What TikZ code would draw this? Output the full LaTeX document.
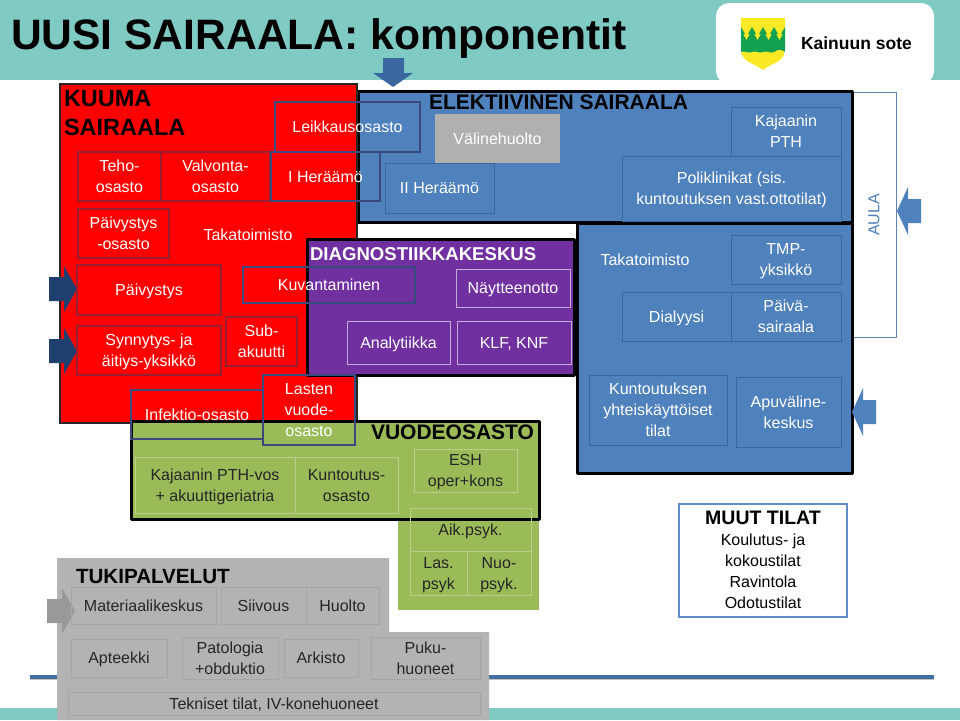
\documentclass[tikz,border=0pt]{standalone}
\usepackage{fontspec}
\setmainfont{Liberation Sans}
\definecolor{teal1}{HTML}{7FCBC4}
\definecolor{redA}{HTML}{FF0000}
\definecolor{blueA}{HTML}{4F81BD}
\definecolor{blueE}{HTML}{3A679F}
\definecolor{purpA}{HTML}{7030A0}
\definecolor{greenA}{HTML}{9BBB59}
\definecolor{greyA}{HTML}{B3B3B3}
\definecolor{navy}{HTML}{1F3F6E}
\definecolor{overC}{HTML}{3A4A80}
\definecolor{logoG}{HTML}{12A150}
\definecolor{logoY}{HTML}{FBE925}
\newcommand\lstrut{\rule[-4.8pt]{0pt}{21pt}}
\newcommand\bx[7]{\node[#6,minimum width={(#4-#2)*1pt},minimum height={(#5-#3)*1pt}] (#1) at ({(#2+#4)/2},{(#3+#5)/2}) {\lstrut #7\lstrut};}
\newcommand\arrR[5]{\fill[#5] (#1,{#2-12}) -- ({#1+15},{#2-12}) -- ({#1+15},{#2-#4}) -- (#3,#2) -- ({#1+15},{#2+#4}) -- ({#1+15},{#2+12}) -- (#1,{#2+12}) -- cycle;}
\newcommand\arrL[5]{\fill[#5] (#1,#2) -- ({#1+11},{#2-#4}) -- ({#1+11},{#2-12}) -- (#3,{#2-12}) -- (#3,{#2+12}) -- ({#1+11},{#2+12}) -- ({#1+11},{#2+#4}) -- cycle;}
\tikzset{
  x=1pt,y=-1pt,
  every node/.style={inner sep=0pt,outer sep=0pt,align=center,font=\fontsize{16}{21}\selectfont},
  zone/.style={draw=black,line width=3pt,line join=round},
  boxr/.style={draw=red!55!navy,line width=1.25pt,text=white},
  boxb/.style={draw=blueE,line width=1pt,text=white},
  boxp/.style={draw=white!60!purpA,line width=1pt,text=white},
  boxg/.style={draw=white!30!greenA,line width=1pt,text=black!85},
  boxy/.style={draw=black!35,line width=1pt,text=black!85},
  over/.style={draw=overC,line width=1.15pt,text=white},
  head/.style={font=\bfseries\fontsize{#1}{28}\selectfont,text=black,anchor=west},
  plain/.style={text=white},
}
\begin{document}
\begin{tikzpicture}
\useasboundingbox (0,0) rectangle (960,720);
% header and footer bands
\fill[teal1] (0,0) rectangle (960,80);
\fill[teal1] (0,708) rectangle (960,720);
\fill[black!40,opacity=.6] (30,677) rectangle (934,680);
\fill[blueA!85!black] (30,674.5) rectangle (934,678.5);
\fill[white,rounded corners=13pt] (716,3) rectangle (934,84);
\node[anchor=west,font=\bfseries\fontsize{42.6}{44}\selectfont,text=black] (title) at (11,38) {UUSI SAIRAALA: komponentit};
% logo
\begin{scope}
\clip (741,18) -- (785,18) -- (785,50) .. controls (785,62) and (770,64) .. (763,70) .. controls (756,64) and (741,62) .. (741,50) -- cycle;
\fill[logoY] (741,18) rectangle (785,70);
\foreach \tx in {741,752,763,774,785}
  \fill[logoG] (\tx,27) -- ({\tx-4},34) -- ({\tx-2},34) -- ({\tx-6},41) -- ({\tx+6},41) -- ({\tx+2},34) -- ({\tx+4},34) -- cycle;
\fill[logoG] (741,40) -- (785,40) -- (785,52) .. controls (781,49) and (778,49) .. (774,52) .. controls (770,54) and (767,50) .. (763,52) .. controls (759,54) and (756,50) .. (752,52) .. controls (748,54) and (745,50) .. (741,52) -- cycle;
\end{scope}
\node[anchor=west,font=\bfseries\fontsize{17.5}{20}\selectfont,text=black] (kainuu) at (801,43) {Kainuun sote};
% AULA
\bx{aula}{840}{92}{896}{337}{draw=blueE!80,line width=1pt,fill=white}{}
\node[rotate=90,text=blueA] (aulat) at (874,215) {AULA};
% zones
\draw[zone,fill=blueA] (358,91) rectangle (852,222);
\draw[zone,fill=blueA] (577,223) rectangle (852,473);
\draw[black!85,line width=2pt,fill=redA] (59.5,83.5) rectangle (357,423);
\draw[zone,fill=purpA] (307,239) rectangle (574,375);
\fill[greenA] (398,519) rectangle (539,610);
\draw[zone,fill=greenA] (131,421) rectangle (539,519);
% grey support zone
\fill[greyA] (57,558) -- (389,558) -- (389,632) -- (489,632) -- (489,720) -- (57,720) -- cycle;
% arrows
\fill[blueE] (383,58) -- (404,58) -- (404,73) -- (413,73) -- (393,87) -- (373,73) -- (383,73) -- cycle;
\arrR{49}{289}{77}{23}{navy}
\arrR{49}{351}{77}{23}{navy}
\arrR{47}{611}{75}{23}{black!40}
\arrL{897}{211}{921}{24}{blueA}
\arrL{852}{412}{876}{24}{blueA}
% headings
\node[head=23.5] (h1) at (64,99) {KUUMA};
\node[head=23.5] (h2) at (64,127) {SAIRAALA};
\node[head=21] (h3) at (429,102) {ELEKTIIVINEN SAIRAALA};
\node[head=18.6,text=white] (h4) at (310,254) {DIAGNOSTIIKKAKESKUS};
\node[head=21] (h5) at (371,432) {VUODEOSASTO};
\node[head=20.6] (h6) at (76,577) {TUKIPALVELUT};
% red
\bx{leik}{275}{102}{420}{152}{over}{Leikkausosasto}
\bx{teho}{78}{152}{161}{201}{boxr}{Teho-\\osasto}
\bx{valv}{161}{152}{270}{201}{boxr}{Valvonta-\\osasto}
\bx{her1}{271}{152}{380}{201}{over}{I Heräämö}
\bx{paiv}{78}{209}{169}{258}{boxr}{Päivystys\\-osasto}
\node[plain] (tak1) at (248,235) {Takatoimisto};
\bx{paivy}{77}{265}{221}{315}{boxr}{Päivystys}
\bx{synn}{77}{326}{221}{375}{boxr}{Synnytys- ja\\äitiys-yksikkö}
\bx{sub}{226}{317}{297}{366}{boxr}{Sub-\\akuutti}
\bx{kuva}{243}{267}{415}{303}{over}{Kuvantaminen}
% blue
\bx{her2}{385}{163}{494}{213}{boxb}{II Heräämö}
\bx{vali}{435}{114}{560}{163}{fill=black!31,text=white}{Välinehuolto}
\bx{kaj}{731}{107}{841}{156}{boxb}{Kajaanin\\PTH}
\bx{poli}{622}{156}{841}{221}{boxb}{Poliklinikat (sis.\\kuntoutuksen vast.ottotilat)}
\node[plain] (tak2) at (645,260) {Takatoimisto};
\bx{tmp}{731}{235}{841}{284}{boxb}{TMP-\\yksikkö}
\bx{dial}{622}{292}{731}{341}{boxb}{Dialyysi}
\bx{paiva}{731}{292}{841}{341}{boxb}{Päivä-\\sairaala}
\bx{kunt}{589}{375}{727}{445}{boxb}{Kuntoutuksen\\yhteiskäyttöiset\\tilat}
\bx{apuv}{736}{377}{841}{447}{boxb}{Apuväline-\\keskus}
% purple
\bx{nayt}{456}{269}{570}{307}{boxp}{Näytteenotto}
\bx{anal}{347}{321}{450}{364}{boxp}{Analytiikka}
\bx{klf}{457}{321}{571}{364}{boxp}{KLF, KNF}
% green
\bx{infe}{131}{390}{263}{439}{over}{Infektio-osasto}
\bx{last}{263}{375}{355}{445}{over}{Lasten\\vuode-\\osasto}
\bx{kajv}{135}{457}{295}{513}{boxg}{Kajaanin PTH-vos\\+ akuuttigeriatria}
\bx{kuos}{295}{457}{398}{513}{boxg}{Kuntoutus-\\osasto}
\bx{esh}{414}{449}{517}{492}{boxg}{ESH\\oper+kons}
\bx{aik}{410}{508}{531}{551}{boxg}{Aik.psyk.}
\bx{las}{410}{551}{467}{595}{boxg}{Las.\\psyk}
\bx{nuo}{467}{551}{531}{595}{boxg}{Nuo-\\psyk.}
% grey boxes
\bx{mat}{71}{587}{216}{624}{boxy}{Materiaalikeskus}
\bx{sii}{221}{587}{306}{624}{boxy}{Siivous}
\bx{huo}{306}{587}{379}{624}{boxy}{Huolto}
\bx{apt}{71}{639}{167}{677}{boxy}{Apteekki}
\bx{pat}{182}{639}{278}{677}{boxy}{Patologia\\+obduktio}
\bx{ark}{284}{639}{358}{677}{boxy}{Arkisto}
\bx{puk}{371}{639}{480}{677}{boxy}{Puku-\\huoneet}
\bx{tek}{68}{692}{480}{715}{boxy}{Tekniset tilat, IV-konehuoneet}
% muut tilat
\bx{muut}{679}{504}{847}{617}{draw=blueA!90!white,line width=1.2pt,fill=white,text=black}{{\bfseries\fontsize{19.5}{21}\selectfont MUUT TILAT}\\Koulutus- ja\\kokoustilat\\Ravintola\\Odotustilat}
\end{tikzpicture}
\end{document}
